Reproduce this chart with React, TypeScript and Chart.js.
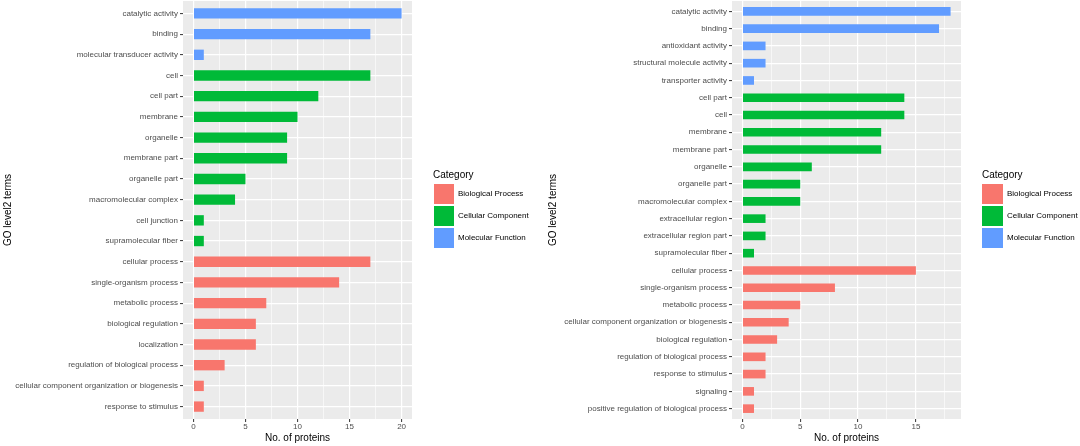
import React, { useEffect, useRef } from 'react';
import { Chart, registerables } from 'chart.js';

Chart.register(...registerables);

const FONT = '"Liberation Sans", Arial, Helvetica, sans-serif';
Chart.defaults.font.family = FONT;

// Legend categories and colours
const categoryNames = ['Biological Process', 'Cellular Component', 'Molecular Function'];
const categoryCodes = ['BP', 'CC', 'MF'];
const categoryColors = ['#F8766D', '#00BA38', '#619CFF'];

// Left panel (top to bottom)
const terms1 = [
  'catalytic activity',
  'binding',
  'molecular transducer activity',
  'cell',
  'cell part',
  'membrane',
  'organelle',
  'membrane part',
  'organelle part',
  'macromolecular complex',
  'cell junction',
  'supramolecular fiber',
  'cellular process',
  'single-organism process',
  'metabolic process',
  'biological regulation',
  'localization',
  'regulation of biological process',
  'cellular component organization or biogenesis',
  'response to stimulus',
];
const counts1 = [20, 17, 1, 17, 12, 10, 9, 9, 5, 4, 1, 1, 17, 14, 7, 6, 6, 3, 1, 1];
const cats1 = ['MF', 'MF', 'MF', 'CC', 'CC', 'CC', 'CC', 'CC', 'CC', 'CC', 'CC', 'CC', 'BP', 'BP', 'BP', 'BP', 'BP', 'BP', 'BP', 'BP'];
const xBreaks1 = [0, 5, 10, 15, 20];
const xMinor1 = [2.5, 7.5, 12.5, 17.5];

// Right panel (top to bottom)
const terms2 = [
  'catalytic activity',
  'binding',
  'antioxidant activity',
  'structural molecule activity',
  'transporter activity',
  'cell part',
  'cell',
  'membrane',
  'membrane part',
  'organelle',
  'organelle part',
  'macromolecular complex',
  'extracellular region',
  'extracellular region part',
  'supramolecular fiber',
  'cellular process',
  'single-organism process',
  'metabolic process',
  'cellular component organization or biogenesis',
  'biological regulation',
  'regulation of biological process',
  'response to stimulus',
  'signaling',
  'positive regulation of biological process',
];
const counts2 = [18, 17, 2, 2, 1, 14, 14, 12, 12, 6, 5, 5, 2, 2, 1, 15, 8, 5, 4, 3, 2, 2, 1, 1];
const cats2 = ['MF', 'MF', 'MF', 'MF', 'MF', 'CC', 'CC', 'CC', 'CC', 'CC', 'CC', 'CC', 'CC', 'CC', 'CC', 'BP', 'BP', 'BP', 'BP', 'BP', 'BP', 'BP', 'BP', 'BP'];
const xBreaks2 = [0, 5, 10, 15];
const xMinor2 = [2.5, 7.5, 12.5, 17.5];

const xTitle = 'No. of proteins';
const yTitle = 'GO level2 terms';
const legendTitle = 'Category';

const panelBg = {
  id: 'panelBg',
  beforeDraw(chart: any) {
    const { ctx, chartArea: a } = chart;
    ctx.save();
    ctx.fillStyle = '#EBEBEB';
    ctx.fillRect(a.left, a.top, a.right - a.left, a.bottom - a.top);
    ctx.restore();
  },
};

type PanelProps = {
  terms: string[];
  counts: number[];
  cats: string[];
  majors: number[];
  minors: number[];
  left: number;
  axisWidth: number;
  padRight: number;
  yTitlePad: number;
};

function Panel({ terms, counts, cats, majors, minors, left, axisWidth, padRight, yTitlePad }: PanelProps) {
  const ref = useRef<HTMLCanvasElement>(null);
  useEffect(() => {
    const n = terms.length;
    const maxV = Math.max(...counts);
    const isMajor = (v: any) => majors.includes(Number(v));
    const chart = new Chart(ref.current as HTMLCanvasElement, {
      type: 'bar',
      data: {
        datasets: [
          {
            data: counts.map((v, i) => ({ x: v, y: i + 1 })) as any,
            backgroundColor: cats.map((c) => categoryColors[categoryCodes.indexOf(c)]),
            borderWidth: 0,
            categoryPercentage: 1,
            barPercentage: 0.5,
          },
        ],
      },
      options: {
        indexAxis: 'y',
        responsive: false,
        animation: false,
        events: [],
        layout: { padding: { top: 1, right: padRight, left: 0, bottom: 0 } },
        plugins: { legend: { display: false }, tooltip: { enabled: false } },
        scales: {
          x: {
            type: 'linear',
            position: 'bottom',
            offset: false,
            min: -0.05 * maxV,
            max: 1.05 * maxV,
            afterBuildTicks: (s: any) => {
              s.ticks = [...majors, ...minors].sort((a, b) => a - b).map((v) => ({ value: v }));
            },
            afterFit: (s: any) => {
              s.height = 27;
              s.paddingLeft = 0;
              s.paddingRight = 0;
            },
            ticks: {
              autoSkip: false,
              maxRotation: 0,
              padding: 0,
              color: '#4D4D4D',
              font: { size: 8 },
              callback: (v: any) => (isMajor(v) ? String(v) : ''),
            },
            grid: {
              offset: false,
              color: '#FFFFFF',
              lineWidth: (c: any) => (isMajor(c.tick?.value) ? 1.2 : 0.6),
              tickColor: (c: any) => (isMajor(c.tick?.value) ? '#333333' : 'rgba(0,0,0,0)'),
              tickLength: 3,
              tickWidth: 1,
            },
            border: { display: false },
            title: {
              display: true,
              text: xTitle,
              color: '#000000',
              font: { size: 10 },
              padding: { top: 0, bottom: 2 },
            },
          },
          y: {
            type: 'linear',
            position: 'left',
            reverse: true,
            offset: false,
            min: 0.4,
            max: n + 0.6,
            afterBuildTicks: (s: any) => {
              s.ticks = terms.map((_, i) => ({ value: i + 1 }));
            },
            afterFit: (s: any) => {
              s.width = axisWidth;
              s.paddingTop = 0;
              s.paddingBottom = 0;
            },
            ticks: {
              autoSkip: false,
              padding: 2,
              color: '#4D4D4D',
              font: { size: 8 },
              callback: (v: any) => terms[Number(v) - 1] ?? '',
            },
            grid: {
              offset: false,
              color: '#FFFFFF',
              lineWidth: 1.2,
              tickColor: '#333333',
              tickLength: 3,
              tickWidth: 1,
            },
            border: { display: false },
            title: {
              display: true,
              text: yTitle,
              color: '#000000',
              font: { size: 10 },
              padding: { top: yTitlePad, bottom: 0 },
            },
          },
        },
      } as any,
      plugins: [panelBg],
    });
    return () => chart.destroy();
  }, []);
  return (
    <canvas
      ref={ref}
      width={540}
      height={446}
      style={{ position: 'absolute', left, top: 0, width: 540, height: 446 }}
    />
  );
}

function Legend({ titleX, keyX, keyW, labelX }: { titleX: number; keyX: number; keyW: number; labelX: number }) {
  return (
    <>
      <div
        style={{
          position: 'absolute',
          left: titleX,
          top: 169,
          fontSize: 10,
          lineHeight: '12px',
          whiteSpace: 'nowrap',
          color: '#000',
          fontFamily: FONT,
        }}
      >
        {legendTitle}
      </div>
      {categoryNames.map((name, i) => (
        <React.Fragment key={name}>
          <div
            style={{
              position: 'absolute',
              left: keyX,
              top: 184 + i * 22,
              width: keyW,
              height: 20,
              background: categoryColors[i],
            }}
          />
          <div
            style={{
              position: 'absolute',
              left: labelX,
              top: 184 + i * 22 + 4,
              fontSize: 8,
              lineHeight: '12px',
              whiteSpace: 'nowrap',
              color: '#000',
              fontFamily: FONT,
            }}
          >
            {name}
          </div>
        </React.Fragment>
      ))}
    </>
  );
}

export default function App() {
  return (
    <div style={{ position: 'absolute', left: 0, top: 0, width: 1080, height: 446, background: '#fff', overflow: 'hidden' }}>
      <Panel
        terms={terms1}
        counts={counts1}
        cats={cats1}
        majors={xBreaks1}
        minors={xMinor1}
        left={0}
        axisWidth={183}
        padRight={128}
        yTitlePad={2}
      />
      <Panel
        terms={terms2}
        counts={counts2}
        cats={cats2}
        majors={xBreaks2}
        minors={xMinor2}
        left={540}
        axisWidth={192}
        padRight={119}
        yTitlePad={7}
      />
      <Legend titleX={433} keyX={434} keyW={20} labelX={458} />
      <Legend titleX={982} keyX={982} keyW={21} labelX={1007} />
    </div>
  );
}
